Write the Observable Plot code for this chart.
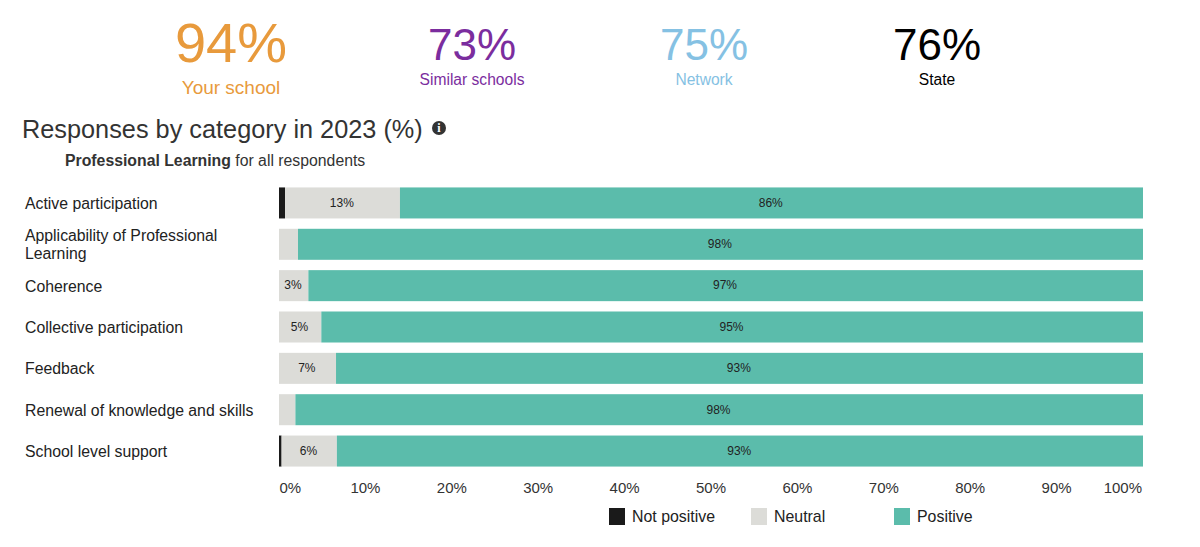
<!DOCTYPE html>
<html>
<head>
<meta charset="utf-8">
<script src="https://cdn.jsdelivr.net/npm/d3@7"></script>
<script src="https://cdn.jsdelivr.net/npm/@observablehq/plot@0.6"></script>
<style>
html,body{margin:0;padding:0;background:#fff;overflow:hidden}
body{width:1200px;height:547px;position:relative;font-family:"Liberation Sans",Arial,sans-serif;color:#222}
.abs{position:absolute;white-space:nowrap}
.kpi{transform:translate(-50%,-50%);line-height:1}
#chart{position:absolute;left:0;top:170px}
.sw{position:absolute;width:16px;height:17px;top:508px}
.lg{position:absolute;top:508px;font-size:15.9px;line-height:17px;color:#222}
</style>
</head>
<body>
<div id="kpis"></div>
<div class="abs" style="left:22px;top:114px;font-size:25.3px;line-height:30px;color:#333">Responses by category in 2023 (%)</div>
<div class="abs" style="left:432px;top:121px;width:14px;height:14px;border-radius:50%;background:#333;color:#fff;font:bold 12px/14px 'Liberation Serif',serif;text-align:center">i</div>
<div class="abs" style="left:65px;top:152px;font-size:15.8px;line-height:17px;color:#333"><b>Professional Learning</b> for all respondents</div>
<div id="chart"></div>
<div id="legend"></div>
<script>
const categories = ["Active participation","Applicability of Professional Learning","Coherence","Collective participation","Feedback","Renewal of knowledge and skills","School level support"];
const notPositive = [0.7,0,0,0,0,0,0.3];
const neutral = [13.3,2.2,3.4,4.9,6.6,1.9,6.4];
const positive = [86,97.8,96.6,95.1,93.4,98.1,93.3];
const responses = ["Not positive","Neutral","Positive"];
const responseColors = ["#1a1a1a","#dcdcd8","#5bbcab"];
const xTicks = [0,10,20,30,40,50,60,70,80,90,100];
const kpiValues = ["94%","73%","75%","76%"];
const kpiLabels = ["Your school","Similar schools","Network","State"];
const kpiColors = ["#e89a3c","#7b2d9e","#85c1e3","#000000"];
const kpiX = [231,472,704,937];
const legendX = [609,751,894];

const rows = [];
categories.forEach((c,i)=>{
  [notPositive,neutral,positive].forEach((s,j)=>rows.push({category:c,response:responses[j],value:s[i]}));
});

const fmt = d=>d+"%";
const plot = Plot.plot({
  width:1200,height:330,
  marginLeft:279,marginRight:57,marginTop:7.1,marginBottom:23.1,
  style:{fontFamily:'"Liberation Sans",Arial,sans-serif',background:"transparent",overflow:"visible"},
  x:{domain:[0,100],axis:null},
  y:{domain:categories,padding:0.25,round:false,axis:null},
  color:{domain:responses,range:responseColors},
  marks:[
    Plot.barX(rows,Plot.stackX({x:"value",y:"category",fill:"response",order:responses})),
    Plot.text(rows,Plot.stackX({
      x:"value",y:"category",order:responses,z:"response",dx:-1.2,dy:-0.5,
      text:d=>d.response!=="Not positive"&&d.value>=3?Math.round(d.value)+"%":"",fontSize:12,fill:"#222"
    })),
    Plot.text(categories,{x:()=>0,y:d=>d,text:d=>d,dx:-254.5,dy:-0.4,textAnchor:"start",lineWidth:17.5,fontSize:15.8,lineHeight:1.14,fill:"#222"}),
    Plot.axisX({ticks:xTicks.slice(1,-1),tickFormat:fmt,tickSize:0,tickPadding:5,dx:-0.5,fontSize:15,fill:"#333",label:null}),
    Plot.axisX({ticks:xTicks.slice(0,1),tickFormat:fmt,tickSize:0,tickPadding:5,fontSize:15,fill:"#333",label:null,textAnchor:"start"}),
    Plot.axisX({ticks:xTicks.slice(-1),tickFormat:fmt,tickSize:0,tickPadding:5,dx:-1.5,fontSize:15,fill:"#333",label:null,textAnchor:"end"})
  ]
});
document.getElementById("chart").append(plot);

const k = document.getElementById("kpis");
kpiValues.forEach((v,i)=>{
  const big = i===0;
  k.insertAdjacentHTML("beforeend",
    `<div class="abs kpi" style="left:${kpiX[i]}px;top:${big?43:45}px;font-size:${big?56:44}px;color:${kpiColors[i]}">${v}</div>
     <div class="abs kpi" style="left:${kpiX[i]}px;top:${big?87:80}px;font-size:${big?19:15.6}px;color:${kpiColors[i]}">${kpiLabels[i]}</div>`);
});
const l = document.getElementById("legend");
responses.forEach((r,i)=>{
  l.insertAdjacentHTML("beforeend",
    `<div class="sw" style="left:${legendX[i]}px;background:${responseColors[i]}"></div>
     <div class="lg" style="left:${legendX[i]+23}px">${r}</div>`);
});
</script>
</body>
</html>
